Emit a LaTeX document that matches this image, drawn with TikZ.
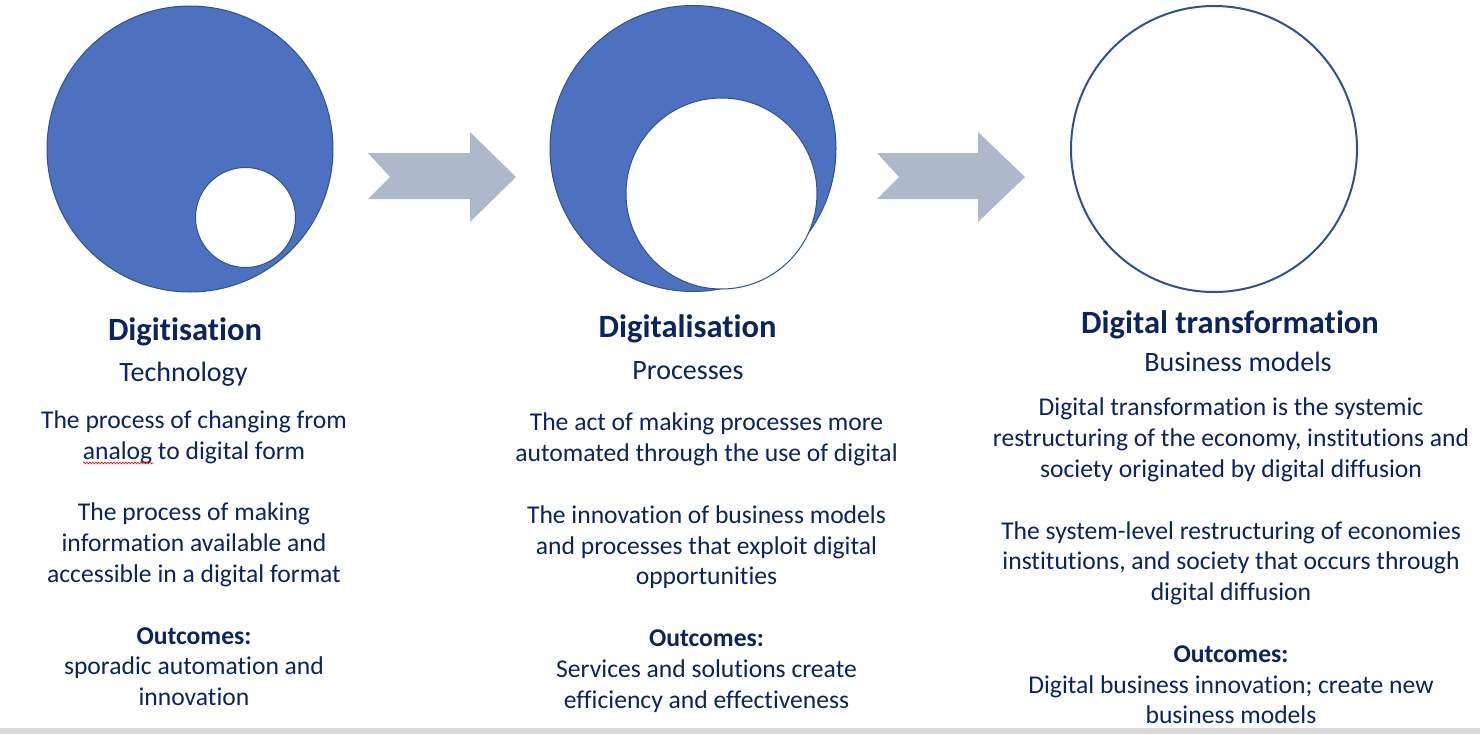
\documentclass[tikz,border=0pt]{standalone}
\usepackage{fontspec}
\setmainfont{Carlito}[Ligatures={NoCommon}]
\usetikzlibrary{decorations.pathmorphing}
\definecolor{discblue}{HTML}{4D71BE}
\definecolor{discline}{HTML}{2F528F}
\definecolor{arrowgrey}{HTML}{ADB9CA}
\definecolor{textnavy}{HTML}{0A2460}
\begin{document}
\begin{tikzpicture}[x=1pt,y=-1pt,
  disc/.style={circle, fill=discblue, draw=discline, line width=1pt},
  hole/.style={circle, fill=white, draw=discline, line width=1pt},
  ring/.style={circle, draw=discline, line width=2pt},
  heading/.style={text=textnavy, font=\bfseries\fontsize{32.5}{38}\selectfont, anchor=base},
  subhead/.style={text=textnavy, font=\fontsize{28}{34}\selectfont, anchor=base},
  body/.style={text=textnavy, align=center, font=\fontsize{25.6}{30.8}\selectfont, anchor=north},
  chevron/.style={fill=arrowgrey}]
\tikzstyle{every node}+=[inner sep=0pt]
\useasboundingbox (0,0) rectangle (1480,734);
\fill [white] (0,0) rectangle (1480,734);
\fill [black!15] (0,728) rectangle (1480,734);
\node [disc, minimum size=286pt] (digitisation) at (190,149) {};
\node [hole, minimum size=100pt] (digitisation hole) at (245.5,217.5) {};
\node [disc, minimum size=286pt] (digitalisation) at (693,148.5) {};
\node [hole, minimum size=191pt] (digitalisation hole) at (721.5,193.5) {};
\node [ring, minimum size=286pt] (transformation) at (1214,149) {};
\fill [chevron] (368,153) -- (470,153) -- (470,132) -- (516,177) -- (470,222) -- (470,199) -- (368,199) -- (390,177) -- cycle;
\fill [chevron] (877,153) -- (978,153) -- (978,132) -- (1025,177) -- (978,222) -- (978,199) -- (877,199) -- (899,177) -- cycle;
\node [heading] (digitisation title) at (185,340.5) {Digitisation};
\node [subhead] (digitisation sub) at (183.5,381) {Technology};
\node [body] (digitisation text) at (194,410.5) {The process of changing from\\
analog to digital form\\[30.8pt]
The process of making\\
information available and\\
accessible in a digital format\\[30.8pt]
\textbf{Outcomes:}\\
sporadic automation and\\
innovation};
\draw [red, line width=0.6pt, decorate, decoration={snake, amplitude=0.9pt, segment length=3pt}] (83,463) -- (153,463);
\node [heading] (digitalisation title) at (687.5,337.5) {Digitalisation};
\node [subhead] (digitalisation sub) at (688,379.3) {Processes};
\node [body] (digitalisation text) at (706.5,413) {The act of making processes more\\
automated through the use of digital\\[30.8pt]
The innovation of business models\\
and processes that exploit digital\\
opportunities\\[30.8pt]
\textbf{Outcomes:}\\
Services and solutions create\\
efficiency and effectiveness};
\node [heading] (transformation title) at (1230,333) {Digital transformation};
\node [subhead] (transformation sub) at (1238,371.7) {Business models};
\node [body] (transformation text) at (1231,398) {Digital transformation is the systemic\\
restructuring of the economy, institutions and\\
society originated by digital diffusion\\[30.8pt]
The system-level restructuring of economies\\
institutions, and society that occurs through\\
digital diffusion\\[30.8pt]
\textbf{Outcomes:}\\
Digital business innovation; create new\\
business models};
\end{tikzpicture}
\end{document}
